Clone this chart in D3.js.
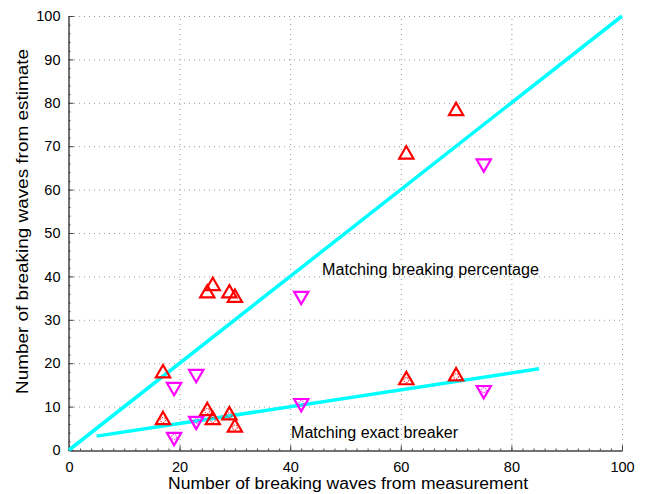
<!DOCTYPE html>
<html><head><meta charset="utf-8">
<script src="https://cdn.jsdelivr.net/npm/d3@7"></script>
<style>body{margin:0;background:#fff}svg{display:block}text{font-family:"Liberation Sans",Arial,sans-serif}</style>
</head><body><svg id="c" width="649" height="494"></svg>
<script>
// Data
const upPctX = [17, 26, 25, 29, 30, 61, 70];
const upPctY = [17.7, 37.8, 36.1, 36.1, 35.1, 68.1, 78.1];
const downPctX = [19, 23, 42, 75];
const downPctY = [14.5, 17.5, 35.5, 66];
const upExactX = [17, 25, 26, 29, 30, 61, 70];
const upExactY = [6.9, 9.0, 6.9, 8.0, 5.2, 16.1, 17.0];
const downExactX = [19, 23, 42, 75];
const downExactY = [3, 6.7, 10.8, 13.8];
const lineDiag = [[0, 0], [100, 100]];
const lineFit = [[5, 3.2], [85, 18.7]];
const xTicks = [0, 20, 40, 60, 80, 100];
const yTicks = [0, 10, 20, 30, 40, 50, 60, 70, 80, 90, 100];

const svg = d3.select("#c");
const x = d3.scaleLinear().domain([0, 100]).range([69, 622]);
const y = d3.scaleLinear().domain([0, 100]).range([450, 16]);

// grid
const g = svg.append("g").attr("stroke", "#999").attr("stroke-dasharray", "1,4").attr("stroke-width", 1);
xTicks.filter(d => d > 0).forEach(d => g.append("line").attr("x1", x(d)+0.5).attr("x2", x(d)+0.5).attr("y1", y(0)).attr("y2", y(100)));
yTicks.filter(d => d > 0).forEach(d => g.append("line").attr("x1", x(0)).attr("x2", x(100)).attr("y1", y(d)+0.5).attr("y2", y(d)+0.5));

// axes
const xAxis = d3.axisBottom(x).tickValues(xTicks).tickSize(-5).tickPadding(8).tickFormat(d3.format("d"));
const yAxis = d3.axisLeft(y).tickValues(yTicks).tickSize(-5).tickPadding(8).tickFormat(d3.format("d"));
const xMinor = d3.axisBottom(x).tickValues(d3.range(0, 101, 2)).tickSize(-2).tickFormat("");
const yMinor = d3.axisLeft(y).tickValues(d3.range(0, 101, 2)).tickSize(-2).tickFormat("");
function style(sel){sel.select(".domain").attr("stroke","#444");sel.selectAll(".tick line").attr("stroke","#444");sel.selectAll("text").attr("font-size","14.5px").attr("fill","#000").attr("font-family","Liberation Sans, Arial, sans-serif");}
svg.append("g").attr("transform", `translate(0,${y(0)+0.5})`).call(xMinor).call(style);
svg.append("g").attr("transform", `translate(${x(0)-0.5},0)`).call(yMinor).call(style);
svg.append("g").attr("transform", `translate(0,${y(0)+0.5})`).call(xAxis).call(style).selectAll("text").attr("dy","0.9em");
svg.append("g").attr("transform", `translate(${x(0)-0.5},0)`).call(yAxis).call(style);

// lines
const lg = d3.line().x(d => x(d[0])).y(d => y(d[1]));
svg.append("path").attr("d", lg(lineDiag)).attr("stroke", "#00FFFF").attr("stroke-width", 3.5).attr("fill", "none");
svg.append("path").attr("d", lg(lineFit)).attr("stroke", "#00FFFF").attr("stroke-width", 3.5).attr("fill", "none");

const up = d3.symbol().type(d3.symbolTriangle).size(88);
function tri(xs, ys, color, dir, circ) {
  xs.forEach((d, i) => {
    const cx = x(d), cy = y(ys[i]);
    svg.append("path").attr("d", up()).attr("transform", `translate(${cx},${cy}) rotate(${dir})`)
      .attr("fill", "none").attr("stroke", color).attr("stroke-width", 2.2);
    if (circ) svg.append("circle").attr("cx", cx).attr("cy", cy).attr("r", 2.5).attr("fill", "none")
      .attr("stroke", color).attr("stroke-width", 1).attr("stroke-dasharray", "1.5,1");
  });
}
tri(upPctX, upPctY, "#FF0000", 0, false);
tri(downPctX, downPctY, "#FF00FF", 180, false);
tri(upExactX, upExactY, "#FF0000", 0, true);
tri(downExactX, downExactY, "#FF00FF", 180, true);

// annotations
svg.append("text").attr("x", 322).attr("y", 275).attr("font-size", "16px").attr("textLength", 217).attr("lengthAdjust", "spacingAndGlyphs").text("Matching breaking percentage");
svg.append("text").attr("x", 291).attr("y", 438).attr("font-size", "16px").attr("textLength", 167).attr("lengthAdjust", "spacingAndGlyphs").text("Matching exact breaker");
svg.append("text").attr("x", 168).attr("y", 489).attr("font-size", "16px").attr("textLength", 360).attr("lengthAdjust", "spacingAndGlyphs").text("Number of breaking waves from measurement");
svg.append("text").attr("transform", "translate(28,394) rotate(-90)").attr("font-size", "16px").attr("textLength", 345).attr("lengthAdjust", "spacingAndGlyphs").text("Number of breaking waves from estimate");
</script></body></html>
